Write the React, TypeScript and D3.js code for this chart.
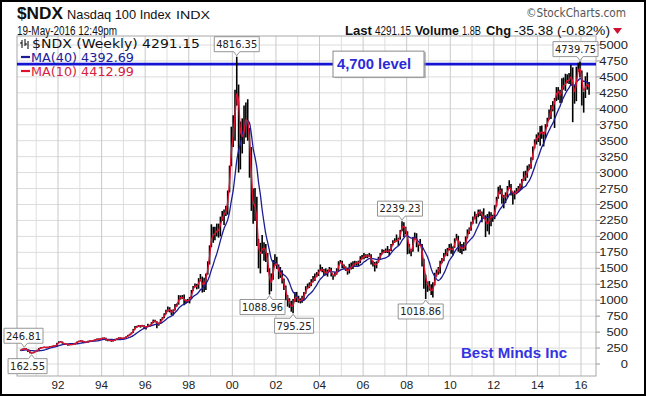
import React from "react";
import * as d3 from "d3";

// ---------- DATA ----------
const START_YEAR = 1990;
const START_MONTH = 3; // April (0-based)

// monthly closes Jul 1989 – Mar 1990 (only used to warm up the moving averages)
const warmupCloses = [200, 206, 208, 200, 205, 224, 204, 210, 219];

// monthly closes Apr 1990 – May 2016
const closes = [
  214, 240, 243, 228, 196, 172, 170, 187, 200,
  222, 246, 258, 256, 268, 250, 268, 276, 275, 287, 282, 331,
  350, 350, 322, 310, 314, 296, 309, 300, 314, 330, 352, 360,
  365, 343, 350, 336, 364, 364, 358, 376, 384, 392, 386, 398,
  410, 404, 372, 368, 376, 356, 368, 394, 396, 416, 402, 404,
  410, 432, 450, 470, 488, 546, 588, 592, 596, 598, 602, 576,
  580, 610, 600, 650, 690, 670, 610, 640, 700, 720, 790, 821,
  882, 830, 780, 850, 930, 930, 1070, 1040, 1040, 970, 1000, 991,
  1040, 1150, 1210, 1250, 1190, 1340, 1350, 1140, 1340, 1400, 1600, 1836,
  2130, 1960, 2100, 2100, 2090, 2300, 2300, 2400, 2410, 2700, 3100, 3708,
  3570, 4270, 4400, 3770, 3320, 3760, 3600, 4080, 3570, 3280, 2510, 2342,
  2590, 1910, 1570, 1850, 1800, 1830, 1690, 1470, 1170, 1330, 1600, 1577,
  1550, 1360, 1450, 1280, 1210, 1050, 960, 960, 830, 990, 1120, 984,
  980, 1010, 1020, 1110, 1200, 1200, 1240, 1310, 1300, 1400, 1400, 1468,
  1490, 1470, 1440, 1400, 1470, 1520, 1380, 1380, 1410, 1470, 1600, 1621,
  1520, 1510, 1480, 1420, 1560, 1490, 1600, 1560, 1600, 1580, 1680, 1645,
  1720, 1680, 1700, 1700, 1590, 1580, 1520, 1600, 1650, 1730, 1760, 1757,
  1790, 1750, 1770, 1870, 1930, 1930, 1930, 1960, 2090, 2238, 2090, 2085,
  1840, 1740, 1780, 1960, 2030, 1840, 1860, 1870, 1640, 1390, 1260, 1212,
  1180, 1100, 1240, 1400, 1450, 1480, 1610, 1630, 1720, 1720, 1800, 1860,
  1740, 1830, 1960, 2000, 1850, 1750, 1870, 1780, 1980, 2100, 2100, 2218,
  2280, 2340, 2340, 2400, 2390, 2280, 2300, 2200, 2160, 2340, 2320, 2278,
  2480, 2600, 2750, 2740, 2560, 2620, 2640, 2770, 2800, 2660, 2680, 2661,
  2730, 2740, 2820, 2880, 2980, 2910, 3100, 3050, 3220, 3400, 3510, 3592,
  3520, 3720, 3590, 3580, 3740, 3850, 3880, 4050, 4050, 4160, 4340, 4236,
  4150, 4460, 4330, 4410, 4510, 4400, 4590, 4270, 4180, 4650, 4670, 4593,
  4280, 4200, 4480, 4340, 4291,
];

const highs = [
  225, 242, 246.81, 246, 230, 198, 178, 190, 204,
  224, 250, 262, 268, 272, 270, 272, 280, 282, 292, 295, 332,
  356, 358, 352, 325, 320, 315, 312, 312, 318, 332, 354, 364,
  372, 370, 356, 352, 366, 370, 368, 378, 388, 400, 398, 402,
  414, 416, 410, 380, 380, 378, 372, 396, 402, 418, 418, 410,
  416, 436, 456, 474, 496, 550, 596, 600, 612, 610, 614, 606,
  590, 630, 616, 656, 696, 694, 672, 650, 706, 736, 794, 850,
  900, 890, 850, 856, 940, 948, 1080, 1076, 1080, 1090, 1010, 1020,
  1050, 1160, 1224, 1260, 1256, 1346, 1410, 1370, 1350, 1420, 1610, 1860,
  2190, 2150, 2150, 2200, 2200, 2310, 2400, 2420, 2480, 2720, 3110, 3720,
  3900, 4300, 4816.35, 4380, 3800, 3850, 4050, 4100, 4150, 3700, 3400, 2750,
  2760, 2620, 1960, 1900, 2020, 1910, 1880, 1740, 1500, 1420, 1630, 1720,
  1680, 1560, 1520, 1470, 1340, 1230, 1080, 1030, 990, 1020, 1130, 1130,
  1070, 1030, 1070, 1130, 1220, 1260, 1280, 1330, 1380, 1420, 1440, 1480,
  1560, 1520, 1490, 1500, 1480, 1520, 1510, 1390, 1440, 1500, 1610, 1630,
  1620, 1560, 1530, 1510, 1570, 1590, 1610, 1620, 1610, 1620, 1690, 1710,
  1740, 1720, 1720, 1740, 1720, 1620, 1600, 1610, 1680, 1740, 1800, 1790,
  1810, 1850, 1800, 1880, 1940, 1970, 2030, 1980, 2100, 2239.23, 2220, 2150,
  2080, 1880, 1800, 1990, 2060, 2050, 1880, 1960, 1880, 1650, 1400, 1290,
  1300, 1250, 1280, 1430, 1480, 1520, 1620, 1660, 1740, 1800, 1820, 1880,
  1890, 1840, 1970, 2040, 2010, 1920, 1880, 1910, 2000, 2110, 2140, 2230,
  2310, 2390, 2350, 2420, 2420, 2390, 2440, 2330, 2350, 2390, 2380, 2340,
  2490, 2620, 2780, 2800, 2750, 2650, 2690, 2790, 2880, 2820, 2690, 2720,
  2760, 2790, 2830, 2900, 3020, 3030, 3110, 3130, 3240, 3410, 3520, 3600,
  3630, 3730, 3740, 3640, 3760, 3860, 3990, 4060, 4120, 4170, 4340, 4340,
  4300, 4480, 4490, 4550, 4540, 4560, 4690, 4650, 4380, 4660, 4720, 4739.75,
  4600, 4270, 4510, 4570, 4420,
];

const lows = [
  208, 212, 232, 222, 188, 168, 162.55, 168, 186,
  196, 220, 240, 250, 252, 246, 250, 262, 266, 270, 275, 272,
  328, 340, 318, 300, 306, 288, 292, 296, 298, 306, 328, 346,
  352, 330, 336, 330, 334, 352, 350, 356, 370, 380, 374, 384,
  396, 396, 364, 356, 358, 348, 354, 366, 386, 390, 394, 392,
  396, 408, 430, 448, 466, 488, 540, 570, 580, 570, 584, 550,
  540, 578, 580, 596, 640, 650, 560, 600, 636, 690, 716, 780,
  820, 810, 770, 760, 840, 900, 930, 1010, 1020, 920, 950, 960,
  950, 1040, 1150, 1200, 1170, 1180, 1330, 1120, 1130, 1160, 1400, 1560,
  1830, 1900, 1940, 2000, 1980, 2000, 2240, 2180, 2320, 2340, 2690, 3100,
  3400, 3500, 4050, 3000, 3050, 3300, 3450, 3550, 3500, 2920, 2400, 2200,
  2240, 1850, 1500, 1420, 1730, 1620, 1600, 1440, 1088.96, 1140, 1320, 1540,
  1490, 1330, 1350, 1260, 1160, 1000, 900, 880, 820, 795.25, 970, 970,
  960, 950, 960, 1000, 1100, 1180, 1190, 1220, 1280, 1300, 1360, 1380,
  1460, 1440, 1380, 1390, 1370, 1450, 1370, 1320, 1370, 1400, 1460, 1580,
  1500, 1490, 1460, 1400, 1420, 1480, 1490, 1540, 1540, 1530, 1580, 1640,
  1640, 1660, 1660, 1680, 1560, 1530, 1450, 1500, 1590, 1650, 1720, 1740,
  1740, 1740, 1700, 1770, 1860, 1900, 1920, 1850, 1950, 2080, 1990, 2030,
  1720, 1730, 1690, 1760, 1950, 1830, 1760, 1850, 1530, 1180, 1018.86, 1130,
  1150, 1080, 1043, 1230, 1370, 1400, 1420, 1580, 1610, 1700, 1690, 1780,
  1730, 1700, 1820, 1940, 1760, 1740, 1720, 1770, 1780, 1970, 2040, 2090,
  2200, 2270, 2200, 2300, 2320, 2220, 2290, 1990, 2080, 2030, 2160, 2230,
  2270, 2470, 2590, 2660, 2510, 2440, 2520, 2610, 2750, 2640, 2500, 2580,
  2660, 2690, 2720, 2740, 2870, 2870, 2920, 3040, 3060, 3200, 3380, 3440,
  3480, 3420, 3530, 3410, 3540, 3720, 3830, 3840, 3960, 3700, 4120, 4140,
  4090, 4100, 4300, 4280, 4400, 4390, 4360, 3790, 4080, 4120, 4580, 4490,
  4050, 3940, 4170, 4300, 4220,
];

const yTickValues = [0, 250, 500, 750, 1000, 1250, 1500, 1750, 2000, 2250, 2500, 2750, 3000, 3250, 3500, 3750, 4000, 4250, 4500, 4750, 5000];
const xTickYears = [1992, 1994, 1996, 1998, 2000, 2002, 2004, 2006, 2008, 2010, 2012, 2014, 2016];
const xTickLabels = ["92", "94", "96", "98", "00", "02", "04", "06", "08", "10", "12", "14", "16"];

const calloutMonths = ["1990-06", "1990-10", "2000-03", "2001-09", "2002-10", "2007-10", "2008-11", "2015-12"];
const calloutValues = [246.81, 162.55, 4816.35, 1088.96, 795.25, 2239.23, 1018.86, 4739.75];
const levelValue = 4700;

// ---------- LAYOUT ----------
const W = 646, H = 396;
const PL = 17, PR = 596, PT = 36, PB = 376;
const calloutPlace = ["above", "below", "above", "below", "below", "above", "below", "above"];
const calloutShift = [-2, -4, 0, -7, 1, -2, -5, -4];

const SANS = "'Liberation Sans', Arial, sans-serif";
const VERD = "'DejaVu Sans', Verdana, sans-serif";
const RED = "#e01030";
const NAVY = "#1c1c96";

const x = d3.scaleTime().domain([new Date(1992, 0, 1), new Date(2016, 0, 1)]).range([58, 581]);
const y = d3.scaleLinear().domain([0, 5000]).range([364, 45]);

const monthDate = (i: number) => new Date(START_YEAR, START_MONTH + i, 15);

function movingAverage(all: number[], n: number, offset: number) {
  const whole = Math.floor(n);
  const frac = n - whole;
  const out: number[] = [];
  for (let i = offset; i < all.length; i++) {
    let s = 0;
    for (let k = 0; k < whole; k++) s += all[i - k];
    if (frac > 0) s += frac * all[i - whole];
    out.push(s / n);
  }
  return out;
}

const allCloses = warmupCloses.concat(closes);
const ma10 = movingAverage(allCloses, 2.3, warmupCloses.length);
const ma40 = movingAverage(allCloses, 9.2, warmupCloses.length);

const lineGen = d3
  .line<number>()
  .x((_, i) => x(monthDate(i)))
  .y((d) => y(d))
  .curve(d3.curveMonotoneX);

function Callout({ idx }: { idx: number }) {
  const [yy, mm] = calloutMonths[idx].split("-").map(Number);
  const px = x(new Date(yy, mm - 1, 15));
  const py = y(calloutValues[idx]);
  const text = calloutValues[idx].toFixed(2);
  const w = text.length * 6.0 + 3;
  const h = 15;
  const gap = 5;
  let cx = px + calloutShift[idx];
  let left = cx - w / 2;
  if (left < 4) left = 4;
  if (left + w > PR + 2) left = PR + 2 - w;
  const right = left + w;
  const tx = Math.max(left + 4, Math.min(right - 4, px));
  let top: number, d: string;
  if (calloutPlace[idx] === "above") {
    const bottom = py - gap;
    top = bottom - h;
    d = `M${left},${top}H${right}V${bottom}H${tx + 3}L${px},${py - 1}L${tx - 3},${bottom}H${left}Z`;
  } else {
    top = py + gap;
    const bottom = top + h;
    d = `M${left},${top}H${tx - 3}L${px},${py + 1}L${tx + 3},${top}H${right}V${bottom}H${left}Z`;
  }
  return (
    <g>
      <path d={d} fill="#fff" stroke="#8a8a8a" strokeWidth={0.9} />
      <text
        x={(left + right) / 2}
        y={top + 11.3}
        textAnchor="middle"
        fontFamily={VERD}
        fontSize={10}
        fill="#222"
        textLength={w - 4}
        lengthAdjust="spacingAndGlyphs"
      >
        {text}
      </text>
    </g>
  );
}

function T(props: any) {
  const { x: tx, y: ty, len, size, weight, fill, anchor, family, children } = props;
  return (
    <text
      x={tx}
      y={ty}
      fontSize={size}
      fontWeight={weight || "normal"}
      fill={fill || "#111"}
      textAnchor={anchor || "start"}
      fontFamily={family || SANS}
      textLength={len}
      lengthAdjust="spacingAndGlyphs"
    >
      {children}
    </text>
  );
}

export default function App() {
  const gridYears = d3.range(1991, 2017);
  const levelY = y(levelValue);
  return (
    <svg width={W} height={H} style={{ position: "absolute", left: 0, top: 0, background: "#fff" }}>
      <defs>
        <clipPath id="plotClip">
          <rect x={PL} y={PT} width={PR - PL} height={PB - PT} />
        </clipPath>
      </defs>
      <rect x={0} y={0} width={W} height={H} fill="#fff" />

      {/* grid */}
      {yTickValues.map((v) => (
        <line key={"h" + v} x1={PL} x2={PR} y1={y(v)} y2={y(v)} stroke="#dcdcdc" strokeWidth={1} />
      ))}
      {gridYears.map((yr) => (
        <line
          key={"v" + yr}
          x1={x(new Date(yr, 0, 1))}
          x2={x(new Date(yr, 0, 1))}
          y1={PT}
          y2={PB}
          stroke={yr % 2 === 0 ? "#c9c9c9" : "#dedede"}
          strokeWidth={1}
        />
      ))}
      <rect x={PL} y={PT} width={PR - PL} height={PB - PT} fill="none" stroke="#a8a8a8" strokeWidth={1} />

      {/* 4700 level line */}
      <line x1={PL} x2={PR} y1={levelY} y2={levelY} stroke="#1414d2" strokeWidth={2.6} />

      <g clipPath="url(#plotClip)">
        {closes.map((c, i) => {
          const xx = x(monthDate(i));
          return (
            <line key={"b" + i} x1={xx} x2={xx} y1={y(highs[i])} y2={y(lows[i])} stroke="#000" strokeWidth={1.6} />
          );
        })}
        <path d={lineGen(ma40) || ""} fill="none" stroke={NAVY} strokeWidth={1.3} />
        <path d={lineGen(ma10) || ""} fill="none" stroke={RED} strokeWidth={1.4} />
      </g>

      {/* callouts */}
      {calloutValues.map((_, i) => (
        <Callout key={"c" + i} idx={i} />
      ))}

      {/* 4,700 level box */}
      <rect x={335} y={levelY - 12} width={91} height={26} fill="#9a9a9a" opacity={0.6} />
      <rect x={333} y={levelY - 13} width={91} height={26} fill="#fff" stroke="#8a8a8a" strokeWidth={1} />
      <T x={337} y={levelY + 5} size={15} weight="bold" fill="#2a2ad8" len={74}>4,700 level</T>

      {/* legend */}
      <g stroke="#000" strokeWidth={1}>
        <line x1={22} x2={22} y1={40} y2={48} />
        <line x1={25} x2={25} y1={39} y2={46} />
        <line x1={28} x2={28} y1={41} y2={49} />
        <line x1={20} x2={22} y1={43} y2={43} />
        <line x1={25} x2={27} y1={44} y2={44} />
      </g>
      <T x={32} y={48} size={12.5} family={VERD} fill="#111" len={168}>$NDX (Weekly) 4291.15</T>
      <line x1={21} x2={30} y1={57} y2={57} stroke={NAVY} strokeWidth={2.2} />
      <T x={31} y={61.5} size={11.5} family={VERD} fill="#20209a" len={103}>MA(40) 4392.69</T>
      <line x1={21} x2={30} y1={71} y2={71} stroke={RED} strokeWidth={2.2} />
      <T x={31} y={75.5} size={11.5} family={VERD} fill="#d81e3c" len={103}>MA(10) 4412.99</T>

      <T x={461} y={358} size={15} weight="bold" fill="#3434e0" len={106}>Best Minds Inc</T>

      {/* right axis */}
      {yTickValues.map((v) => {
        const s = String(v);
        return (
          <g key={"yt" + v}>
            <line x1={PR} x2={PR + 4} y1={y(v)} y2={y(v)} stroke="#999" />
            <T x={628} y={y(v) + 4} size={11.5} anchor="end" fill="#222" len={s.length * 7.2}>{s}</T>
          </g>
        );
      })}

      {/* bottom axis */}
      {xTickYears.map((yr, i) => (
        <T key={"xt" + yr} x={x(new Date(yr, 0, 1))} y={389} size={11.5} anchor="middle" fill="#222" len={13}>
          {xTickLabels[i]}
        </T>
      ))}

      {/* header */}
      <T x={17} y={19} size={17} weight="bold" fill="#111" len={46}>$NDX</T>
      <T x={67} y={19} size={13} fill="#111" len={104}>Nasdaq 100 Index</T>
      <T x={176} y={19} size={11} fill="#111" len={34}>INDX</T>
      <T x={626} y={17} size={12} anchor="end" fill="#555" family={VERD} len={100}>©StockCharts.com</T>
      <T x={17} y={34.5} size={13} fill="#111" len={100}>19-May-2016 12:49pm</T>
      <T x={345} y={34.5} size={13} weight="bold" len={27}>Last</T>
      <T x={375} y={34.5} size={12} len={36}>4291.15</T>
      <T x={415} y={34.5} size={13} weight="bold" len={44}>Volume</T>
      <T x={462} y={34.5} size={12} len={19}>1.8B</T>
      <T x={486} y={34.5} size={13} weight="bold" len={25}>Chg</T>
      <T x={514} y={34.5} size={12} len={96}>-35.38 (-0.82%)</T>
      <path d="M613,28 L622,28 L617.5,34 Z" fill="#d01030" />

      {/* outer frame */}
      <rect x={1} y={1} width={W - 2} height={H - 2} fill="none" stroke="#000" strokeWidth={2} />
    </svg>
  );
}
